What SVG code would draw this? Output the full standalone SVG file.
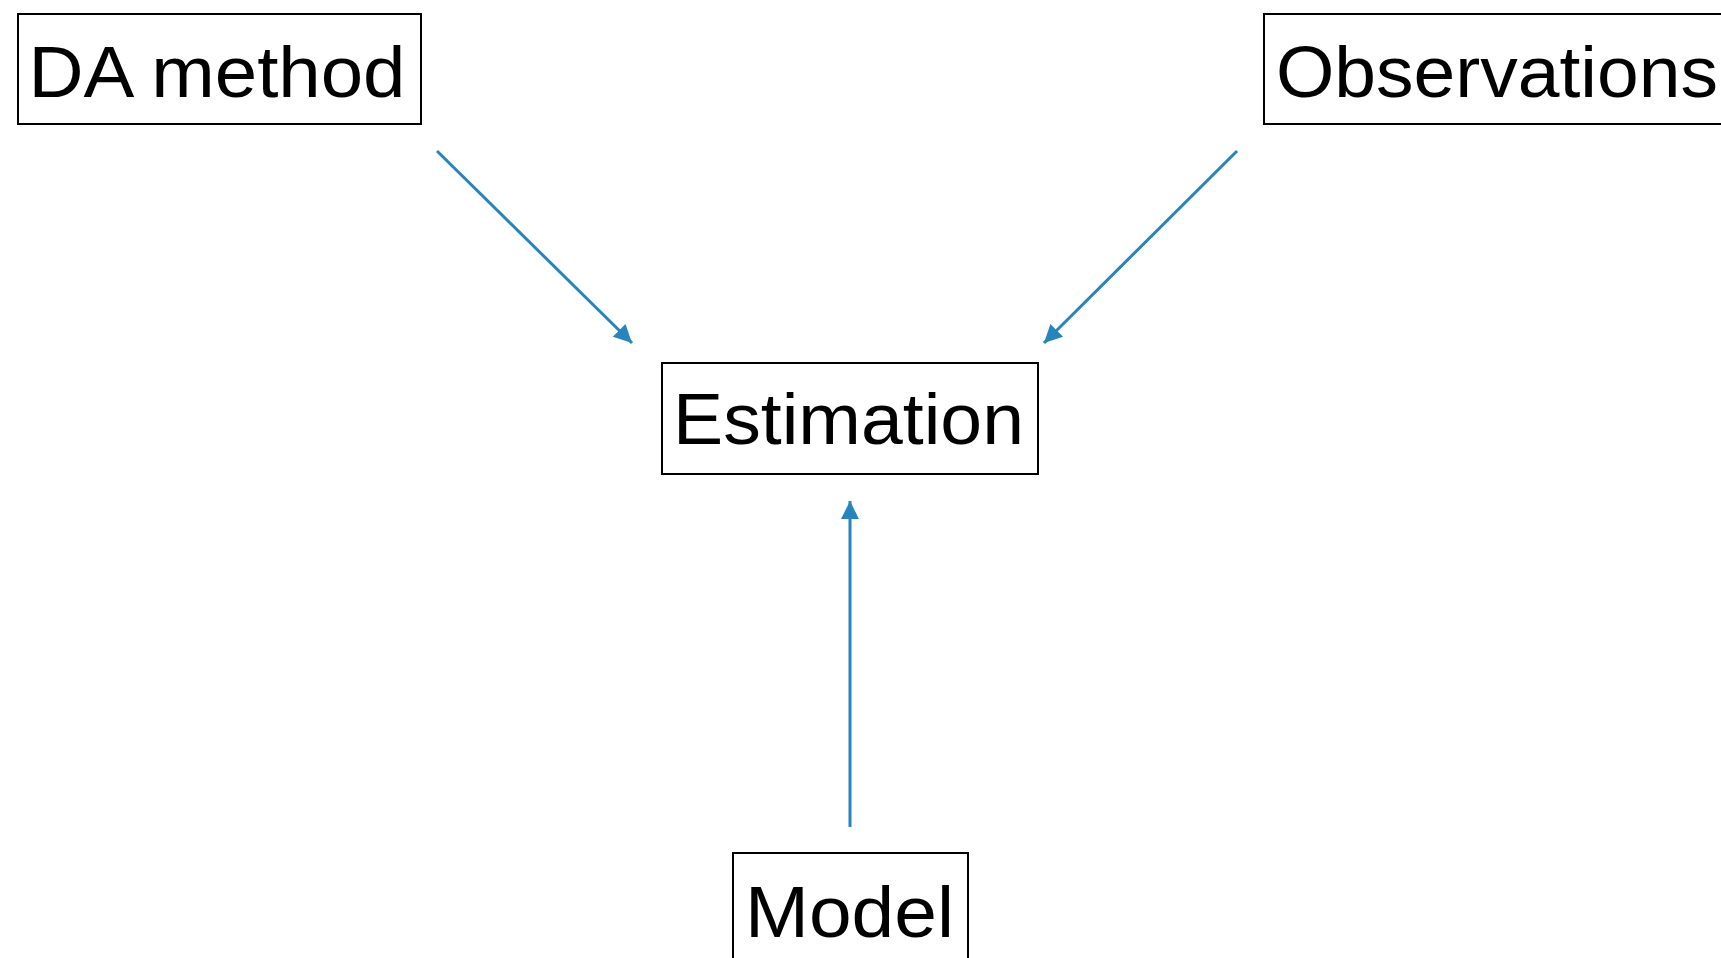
<svg xmlns="http://www.w3.org/2000/svg" width="1721" height="958" viewBox="0 0 1721 958">
  <style>
    .box { fill: #ffffff; stroke: #000000; stroke-width: 2; }
    .label { font-family: "Liberation Sans", Arial, sans-serif; font-size: 72px; fill: #000000; }
    .edge { stroke: #2884bd; stroke-width: 3; fill: none; marker-end: url(#head); }
  </style>
  <defs>
    <marker id="head" viewBox="0 0 10 10" refX="10" refY="5" markerWidth="7" markerHeight="6" markerUnits="strokeWidth" orient="auto">
      <path d="M0,0 L10,5 L0,10 Z" fill="#2884bd"/>
    </marker>
  </defs>
  <rect width="1721" height="958" fill="#ffffff"/>

  <g id="da-method">
    <rect class="box" x="18" y="14" width="403" height="110"/>
    <text class="label" x="28.5" y="97" textLength="377" lengthAdjust="spacingAndGlyphs">DA method</text>
  </g>

  <g id="observations">
    <rect class="box" x="1264" y="14" width="470" height="110"/>
    <text class="label" x="1276" y="97" textLength="442" lengthAdjust="spacingAndGlyphs">Observations</text>
  </g>

  <g id="estimation">
    <rect class="box" x="662" y="363" width="376" height="111"/>
    <text class="label" x="673" y="444" textLength="351" lengthAdjust="spacingAndGlyphs">Estimation</text>
  </g>

  <g id="model">
    <rect class="box" x="733" y="853" width="235" height="120"/>
    <text class="label" x="745" y="937" textLength="209" lengthAdjust="spacingAndGlyphs">Model</text>
  </g>

  <g id="connectors">
    <line class="edge" x1="437" y1="151" x2="632" y2="343"/>
    <line class="edge" x1="1237" y1="151" x2="1044" y2="343"/>
    <line class="edge" x1="850" y1="827" x2="850" y2="501"/>
  </g>
</svg>
